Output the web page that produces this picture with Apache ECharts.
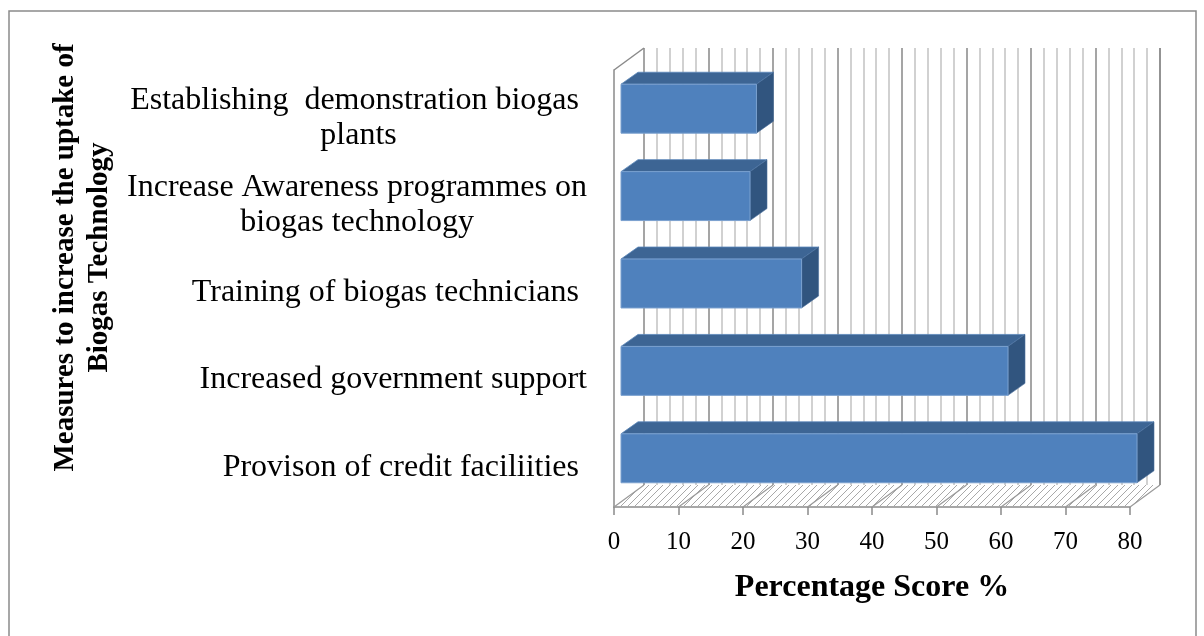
<!DOCTYPE html>
<html>
<head>
<meta charset="utf-8">
<title>Measures to increase the uptake of Biogas Technology</title>
<script src="https://cdn.jsdelivr.net/npm/echarts@6/dist/echarts.min.js"></script>
<style>
  html, body { margin: 0; padding: 0; background: #ffffff; }
  #chart { width: 1204px; height: 636px; }
</style>
</head>
<body>
<div id="chart"></div>
<script>
// ---- data ----
const categories = [
  'Establishing  demonstration biogas \nplants',
  'Increase Awareness programmes on\nbiogas technology',
  'Training of biogas technicians ',
  'Increased government support',
  'Provison of credit faciliities '
];
const scores = [21, 20, 28, 60, 80];
const axisMin = 0;
const axisMax = 80;
const axisStep = 10;
const xTitle = 'Percentage Score %';
const yTitle = 'Measures to increase the uptake of\nBiogas Technology';

// ---- look ----
const SERIF = "'Liberation Serif', 'Times New Roman', serif";
const WALL_DEPTH = [30, -22];   // front plane -> back wall offset (px)
const BAR_FRONT = [7, -5];      // front face of each bar sits a little inside the box
const BAR_DEPTH = [17, -12];    // bar thickness
const BAR_RATIO = 0.56;         // bar height as share of the category band
const FRONT = { left: 614, top: 70, width: 516, height: 437 };
const AXIS_GREY = '#8a8a8a';

// diagonal hatching used on the floor
function hatchPattern() {
  const s = 7;
  const c = document.createElement('canvas');
  c.width = s; c.height = s;
  const g = c.getContext('2d');
  g.strokeStyle = '#a8a8a8';
  g.lineWidth = 1;
  g.beginPath();
  g.moveTo(0, s); g.lineTo(s, 0);
  g.moveTo(-1, 1); g.lineTo(1, -1);
  g.moveTo(s - 1, s + 1); g.lineTo(s + 1, s - 1);
  g.stroke();
  return { image: c, repeat: 'repeat' };
}
const floorFill = hatchPattern();

const chart = echarts.init(document.getElementById('chart'), null, { renderer: 'canvas' });

const option = {
  backgroundColor: '#ffffff',
  animation: false,
  textStyle: { fontFamily: SERIF },
  graphic: [{
    type: 'rect',
    silent: true,
    shape: { x: 9, y: 11, width: 1187, height: 640 },
    style: { fill: null, stroke: AXIS_GREY, lineWidth: 1.5 },
    z: 0
  }],
  grid: [
    { left: FRONT.left, top: FRONT.top, width: FRONT.width, height: FRONT.height, outerBoundsMode: 'none' },
    { left: FRONT.left + WALL_DEPTH[0], top: FRONT.top + WALL_DEPTH[1], width: FRONT.width, height: FRONT.height, outerBoundsMode: 'none' }
  ],
  xAxis: [
    {
      gridIndex: 0, type: 'value', min: axisMin, max: axisMax, interval: axisStep,
      axisLine: { show: true, lineStyle: { color: AXIS_GREY, width: 1.5 } },
      axisTick: { show: true, length: 8, lineStyle: { color: AXIS_GREY, width: 1.5 } },
      axisLabel: { color: '#000', fontFamily: SERIF, fontSize: 25, margin: 23 },
      splitLine: { show: false },
      name: xTitle, nameLocation: 'middle', nameGap: 65,
      nameTextStyle: { color: '#000', fontFamily: SERIF, fontSize: 32, fontWeight: 'bold' }
    },
    {
      gridIndex: 1, type: 'value', min: axisMin, max: axisMax, interval: axisStep,
      axisLine: { show: false }, axisTick: { show: false }, axisLabel: { show: false },
      splitLine: { show: true, lineStyle: { color: '#8f8f8f', width: 1.6 } },
      minorTick: { show: false, splitNumber: 5 },
      minorSplitLine: { show: true, lineStyle: { color: '#c6c6c6', width: 1.6 } }
    }
  ],
  yAxis: [
    {
      gridIndex: 0, type: 'category', data: categories, inverse: true,
      axisLine: { show: true, lineStyle: { color: AXIS_GREY, width: 1.5 } },
      axisTick: { show: false },
      axisLabel: {
        margin: 27,
        padding: [8, 0, 0, 0],
        formatter: (val) => val.split('\n').map(l => '{c|' + l + '}').join('\n'),
        rich: { c: { fontFamily: SERIF, fontSize: 32, color: '#000', align: 'center', lineHeight: 35 } }
      },
      name: yTitle, nameLocation: 'middle', nameRotate: 90, nameGap: 497,
      nameTextStyle: {
        color: '#000', fontFamily: SERIF, fontSize: 29, fontWeight: 'bold',
        lineHeight: 34, padding: [0, 0, 0, 62]
      }
    },
    {
      gridIndex: 1, type: 'category', data: categories, inverse: true,
      axisLine: { show: false }, axisTick: { show: false }, axisLabel: { show: false },
      splitLine: { show: false }
    }
  ],
  series: [
    {
      // left wall, floor and its hatching
      type: 'custom',
      name: 'frame',
      xAxisIndex: 0, yAxisIndex: 0,
      silent: true,
      z: 1,
      data: [[0, 0]],
      renderItem(params, api) {
        const cs = params.coordSys;
        const yt = cs.y, yb = cs.y + cs.height;
        const [dx, dy] = WALL_DEPTH;
        const x0 = api.coord([axisMin, 0])[0];
        const x1 = api.coord([axisMax, 0])[0];
        const kids = [];
        kids.push({
          type: 'polygon',
          shape: { points: [[x0, yb], [x1, yb], [x1 + dx, yb + dy], [x0 + dx, yb + dy]] },
          style: { fill: floorFill, stroke: null }
        });
        for (let v = axisMin; v <= axisMax; v += axisStep) {
          const x = api.coord([v, 0])[0];
          kids.push({
            type: 'line',
            shape: { x1: x, y1: yb, x2: x + dx, y2: yb + dy },
            style: { stroke: '#9a9a9a', lineWidth: 1.2 }
          });
        }
        kids.push({
          type: 'line',
          shape: { x1: x0, y1: yt, x2: x0 + dx, y2: yt + dy },
          style: { stroke: AXIS_GREY, lineWidth: 1.5 }
        });
        kids.push({
          type: 'line',
          shape: { x1: x1 + dx, y1: yb + dy, x2: x1 + dx, y2: yt + dy },
          style: { stroke: '#8f8f8f', lineWidth: 1.6 }
        });
        return { type: 'group', children: kids };
      }
    },
    {
      type: 'custom',
      name: 'Percentage Score %',
      xAxisIndex: 0, yAxisIndex: 0,
      z: 3,
      encode: { x: 0, y: 1 },
      data: scores.map((v, i) => [v, i]),
      renderItem(params, api) {
        const v = api.value(0), i = api.value(1);
        const p0 = api.coord([axisMin, i]);
        const p1 = api.coord([v, i]);
        const band = api.size([0, 1])[1];
        const h = band * BAR_RATIO;
        const L = p0[0] + BAR_FRONT[0], R = p1[0] + BAR_FRONT[0];
        const T = p0[1] - h / 2 + BAR_FRONT[1], B = T + h;
        const [dx, dy] = BAR_DEPTH;
        return {
          type: 'group',
          children: [
            {
              type: 'polygon',
              shape: { points: [[L, T], [R, T], [R + dx, T + dy], [L + dx, T + dy]] },
              style: { fill: '#3D6594', stroke: '#5b86b9', lineWidth: 0.8 }
            },
            {
              type: 'polygon',
              shape: { points: [[R, T], [R + dx, T + dy], [R + dx, B + dy], [R, B]] },
              style: { fill: '#31557F', stroke: '#4a6f9c', lineWidth: 0.6 }
            },
            {
              type: 'rect',
              shape: { x: L, y: T, width: R - L, height: h },
              style: { fill: '#4F81BD', stroke: '#7aa0cf', lineWidth: 1 }
            }
          ]
        };
      }
    }
  ]
};

chart.setOption(option);
</script>
</body>
</html>
